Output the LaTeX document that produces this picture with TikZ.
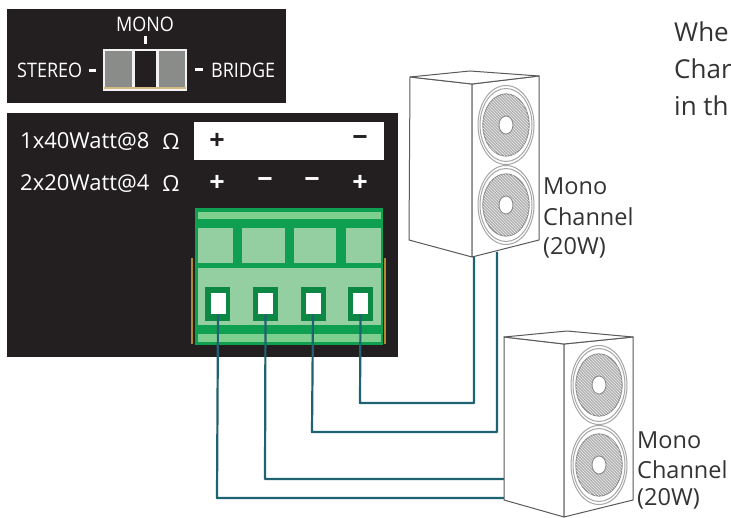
\documentclass[tikz,border=0pt]{standalone}
\usepackage{fontspec}
\setmainfont{Open Sans}
\usetikzlibrary{patterns}
\definecolor{panel}{HTML}{231F20}
\definecolor{gdark}{HTML}{0E9F50}
\definecolor{glight}{HTML}{93CFA0}
\definecolor{gstrip}{HTML}{7FD08F}
\definecolor{wirec}{HTML}{1F6272}
\definecolor{edgec}{HTML}{5A5A5A}
\definecolor{ambercol}{HTML}{B08A30}
\definecolor{swgray}{HTML}{8A8C8A}
\tikzset{
  x=1pt,y=-1pt,
  panelbox/.style={fill=panel,draw=none},
  wire/.style={draw=wirec,line width=2.2pt,line join=round},
  cab/.style={draw=edgec,line width=1pt,fill=white,line join=round},
  ringa/.style={draw=gray!70,line width=1pt,fill=white},
  cone/.style={draw=gray!90,line width=1.2pt,fill=gray!60},
  hatchc/.style={pattern=north west lines,pattern color=white!85!gray},
  hub/.style={draw=gray!90,line width=0.9pt,fill=white},
  wt/.style={text=white,font=\fontsize{22}{22}\selectfont,inner sep=0pt},
  sw/.style={text=white,font=\fontsize{20}{20}\selectfont,inner sep=0pt,xscale=.9,transform shape},
  sign/.style={text=white,font=\fontsize{27}{27}\selectfont\bfseries,inner sep=0pt},
  lab/.style={text=black!80,font=\fontsize{23.5}{23.5}\selectfont,inner sep=0pt,anchor=west},
  topt/.style={text=black!80,font=\fontsize{26}{26}\selectfont,inner sep=0pt,anchor=base west},
  term/.style={fill=gdark!85!black,draw=none,minimum width=25pt,minimum height=34pt,inner sep=0pt},
  hole/.style={fill=white,draw=none,minimum width=15pt,minimum height=21pt,inner sep=0pt},
}
\newcommand{\drivers}[2]{%
  \foreach \cy in {-40,40}{%
    \begin{scope}[shift={(#1,#2+\cy)}]
      \draw[ringa] (0,0) ellipse [x radius=28,y radius=39.5];
      \draw[ringa] (0,0) ellipse [x radius=26,y radius=36.5];
      \draw[cone] (0,0) ellipse [x radius=23,y radius=31];
      \fill[hatchc] (0,0) ellipse [x radius=23,y radius=31];
      \draw[hub] (0,0) ellipse [x radius=7,y radius=9];
    \end{scope}}}
\begin{document}
\begin{tikzpicture}
\useasboundingbox (0,0) rectangle (731,518);
\fill[white] (0,0) rectangle (731,518);
% panels
\fill[panelbox] (7,9) rectangle (286,103);
\fill[panelbox] (7,113) rectangle (398,357);
% switch
\node[sw] (mono) at (145,24) {MONO};
\node[sw,anchor=west] (stereo) at (17,70) {STEREO};
\node[sw,anchor=west] (bridge) at (211,70) {BRIDGE};
\fill[white] (143.5,36) rectangle (146.5,44);
\fill[white] (89,69) rectangle (96,72);
\fill[white] (195,68) rectangle (203,71);
\fill[white!90!gray] (103,49) rectangle (187,91);
\fill[swgray] (105,51) rectangle (132,87);
\fill[panel] (135,51) rectangle (156,87);
\fill[swgray] (159,51) rectangle (185,87);
\fill[ambercol!60!white] (104,87) rectangle (186,89);
% ratings
\node[wt,anchor=west] (r1) at (20,142) {1x40Watt@8};
\node[wt] (o1) at (171,142) {Ω};
\node[wt,anchor=west] (r2) at (20,184) {2x20Watt@4};
\node[wt] (o2) at (171,184) {Ω};
\fill[white] (194,122) rectangle (384,160);
\node[sign,text=panel] (bp) at (217,141) {+};
\node[sign,text=panel] (bm) at (360,141) {−};
\node[sign] (s1) at (217,183) {+};
\node[sign] (s2) at (265,183) {−};
\node[sign] (s3) at (312,183) {−};
\node[sign] (s4) at (360,183) {+};
% connector
\draw[ambercol,line width=1.5pt] (192,258) -- (192,344) (385,258) -- (385,344);
\fill[gdark] (195,208) rectangle (383,345);
\fill[gstrip] (198,212) rectangle (381,219);
\fill[glight] (198,228) rectangle (233,263);
\fill[glight] (242,228) rectangle (285,263);
\fill[glight] (294,228) rectangle (336,263);
\fill[glight] (346,228) rectangle (381,263);
\fill[glight] (198,268) rectangle (381,325);
\fill[gstrip] (198,334) rectangle (381,342);
\node[term] (t1) at (217.5,304) {};
\node[term] (t2) at (265.5,304) {};
\node[term] (t3) at (313,304) {};
\node[term] (t4) at (360.5,304) {};
\node[hole] (h1) at (218,303.5) {};
\node[hole] (h2) at (265.5,303.5) {};
\node[hole] (h3) at (313,303.5) {};
\node[hole] (h4) at (360.5,303.5) {};
% named wire ends on cabinets
\coordinate (a1) at (474,257);
\coordinate (a2) at (497,252);
\coordinate (b1) at (504,479);
\coordinate (b2) at (504,498);
% wires
\draw[wire] (h4.south) -- (360,403) -- (474,403) -- (a1);
\draw[wire] (h3.south) -- (312,432) -- (497,432) -- (a2);
\draw[wire] (h2.south) -- (265,479) -- (b1);
\draw[wire] (h1.south) -- (217,498) -- (b2);
% speaker 1
\draw[cab] (410,77) -- (472,84) -- (472,257) -- (409,240) -- cycle;
\draw[cab] (472,84) -- (539,76) -- (539,240) -- (472,257) -- cycle;
\draw[cab] (410,77) -- (470,71) -- (539,76) -- (472,84) -- cycle;
\drivers{506}{165}
% speaker 2
\draw[cab] (504,337) -- (564,344) -- (564,517) -- (504,500) -- cycle;
\draw[cab] (564,344) -- (633,337) -- (633,500) -- (564,517) -- cycle;
\draw[cab] (504,337) -- (567,331) -- (633,337) -- (564,344) -- cycle;
\drivers{599}{425}
% labels
\node[lab] (l1) at (543,186) {Mono};
\node[lab] (l2) at (543,217) {Channel};
\node[lab] (l3) at (543,248) {(20W)};
\node[lab] (l4) at (637,440) {Mono};
\node[lab] (l5) at (637,470) {Channel};
\node[lab] (l6) at (637,499) {(20W)};
\node[topt] (x1) at (674,42) {Whe};
\node[topt] (x2) at (674,79) {Char};
\node[topt] (x3) at (674,116) {in th};
\end{tikzpicture}
\end{document}
